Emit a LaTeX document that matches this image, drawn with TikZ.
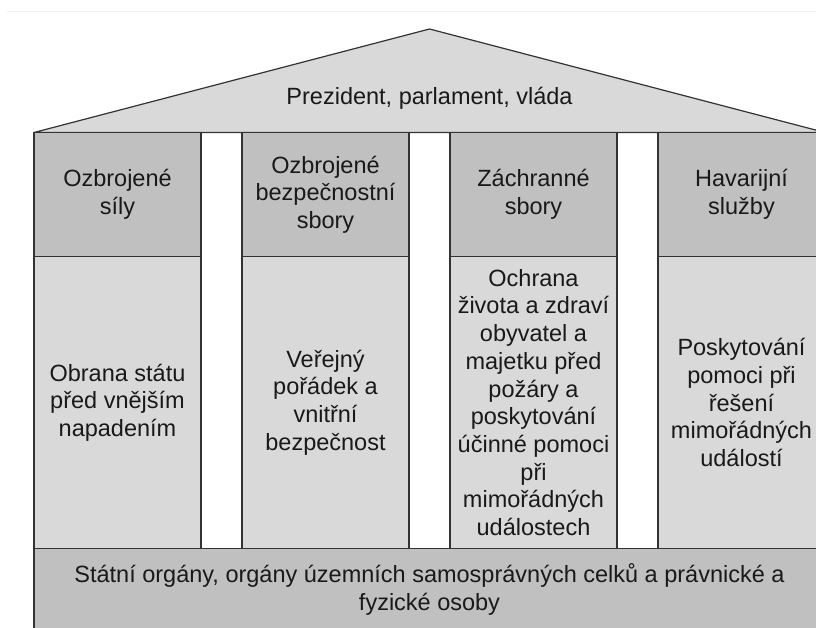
\documentclass[tikz,border=0pt]{standalone}
\usepackage{fontspec}
\setmainfont{Liberation Sans}
\usepackage{xcolor}
\usepackage{tikz}
\definecolor{roofgray}{HTML}{D9D9D9}
\definecolor{headgray}{HTML}{C0C0C0}
\definecolor{edgegray}{HTML}{333333}

\begin{document}
\begin{tikzpicture}[x=1pt, y=1pt,
  every node/.style={font=\fontsize{23.5}{27.7}\selectfont, align=center, inner sep=0pt, text=black!90},
  headbox/.style={draw=edgegray, line width=1.2pt, fill=headgray, minimum width=167pt, minimum height=124pt},
  bodybox/.style={draw=edgegray, line width=1.2pt, fill=roofgray, minimum width=167pt, minimum height=292pt}]
  \useasboundingbox (0,0) rectangle (816,628);
  \clip (0,0) rectangle (816,628);
  \draw[black!6, line width=1pt] (7,616.3) -- (816,616.3);
  % roof
  \draw[edgegray, line width=1.2pt, fill=roofgray, line join=round] (34,495.5) -- (429.5,599) -- (825,495.5) -- cycle;
  \node (roof) at (429.5,530) {Prezident, parlament, vláda};
  % columns, heads
  \node[headbox] (h1) at (117.5,433.5) {Ozbrojené\\síly};
  \node[headbox] (h2) at (325.5,433.5) {Ozbrojené\\bezpečnostní\\sbory};
  \node[headbox] (h3) at (533.5,433.5) {Záchranné\\sbory};
  \node[headbox] (h4) at (741.5,433.5) {Havarijní\\služby};
  % columns, bodies
  \node[bodybox] (b1) at (117.5,225.5) {Obrana státu\\před vnějším\\napadením};
  \node[bodybox] (b2) at (325.5,225.5) {Veřejný\\pořádek a\\vnitřní\\bezpečnost};
  \node[bodybox] (b3) at (533.5,225.5) {Ochrana\\života a zdraví\\obyvatel a\\majetku před\\požáry a\\poskytování\\účinné pomoci\\při\\mimořádných\\událostech};
  \node[bodybox] (b4) at (741.5,225.5) {Poskytování\\pomoci při\\řešení\\mimořádných\\událostí};
  % base
  \node[draw=edgegray, line width=1.2pt, fill=headgray, minimum width=791pt, minimum height=82pt] (base) at (429.5,38.5)
    {Státní orgány, orgány územních samosprávných celků a právnické a\\fyzické osoby};
\end{tikzpicture}
\end{document}
